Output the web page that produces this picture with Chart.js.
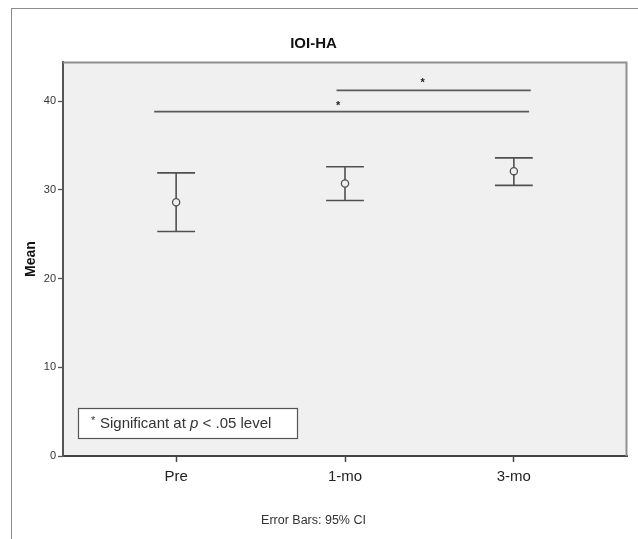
<!DOCTYPE html>
<html>
<head>
<meta charset="utf-8">
<script src="https://cdn.jsdelivr.net/npm/chart.js@4.4.1/dist/chart.umd.min.js"></script>
<style>
  html, body { margin: 0; padding: 0; background: #fff; overflow: hidden; }
  #wrap { position: relative; width: 638px; height: 539px; }
  #frame { position: absolute; left: 11px; top: 8px; width: 700px; height: 600px;
           border-left: 1.5px solid #8c8c8c; border-top: 1.5px solid #8c8c8c; pointer-events: none; }
  canvas { position: absolute; left: 0; top: 0; }
</style>
</head>
<body>
<div id="wrap">
  <canvas id="c" width="638" height="539"></canvas>
  <div id="frame"></div>
</div>
<script>
// ---- data ----
const categories = ['Pre', '1-mo', '3-mo'];
const means      = [28.6, 30.7, 32.1];
const ciLower    = [25.3, 28.8, 30.5];
const ciUpper    = [31.9, 32.6, 33.6];
const yTicks     = [0, 10, 20, 30, 40];
// significance brackets (x in category units, y in value units)
const sigStartX  = [-0.13, 0.95];
const sigEndX    = [2.09, 2.10];
const sigLevel   = [38.8, 41.2];
const starX      = [0.96, 1.46];
const starY      = [39.7, 42.3];

const FONT = '"Liberation Sans", Arial, Helvetica, sans-serif';
const CAP_HALF = 0.112;

// build error-bar line segments from the arrays
const whiskerPts = [];
categories.forEach((c, i) => {
  whiskerPts.push({x: i, y: ciLower[i]}, {x: i, y: ciUpper[i]}, {x: i, y: null});
  whiskerPts.push({x: i - CAP_HALF, y: ciUpper[i]}, {x: i + CAP_HALF, y: ciUpper[i]}, {x: i, y: null});
  whiskerPts.push({x: i - CAP_HALF, y: ciLower[i]}, {x: i + CAP_HALF, y: ciLower[i]}, {x: i, y: null});
});
const sigPts = [];
sigLevel.forEach((lv, k) => {
  sigPts.push({x: sigStartX[k], y: lv}, {x: sigEndX[k], y: lv}, {x: sigEndX[k], y: null});
});

const plotDecor = {
  id: 'plotDecor',
  beforeDraw(chart) {
    const {ctx, chartArea: a} = chart;
    ctx.save();
    ctx.fillStyle = '#f0f0f0';
    ctx.fillRect(a.left, a.top, a.right - a.left, a.bottom - a.top);
    ctx.restore();
  },
  afterDraw(chart) {
    const {ctx, chartArea: a, scales} = chart;
    ctx.save();
    // top and right frame of plot area
    ctx.strokeStyle = '#8f8f8f';
    ctx.lineWidth = 2;
    ctx.beginPath();
    ctx.moveTo(a.left, a.top + 0.5);
    ctx.lineTo(a.right - 0.5, a.top + 0.5);
    ctx.lineTo(a.right - 0.5, a.bottom);
    ctx.stroke();
    // significance asterisks
    ctx.fillStyle = '#222';
    ctx.font = 'bold 11px ' + FONT;
    ctx.textAlign = 'center';
    ctx.textBaseline = 'middle';
    starX.forEach((sx, k) => {
      ctx.fillText('*', scales.x.getPixelForValue(sx), scales.y.getPixelForValue(starY[k]) + 2);
    });
    // note box
    const bx = a.left + 15, by = a.bottom - 48, bw = 219, bh = 30;
    ctx.fillStyle = '#ffffff';
    ctx.fillRect(bx, by, bw, bh);
    ctx.strokeStyle = '#555';
    ctx.lineWidth = 1.2;
    ctx.strokeRect(bx + 0.5, by + 0.5, bw, bh);
    ctx.fillStyle = '#333';
    ctx.textAlign = 'left';
    ctx.textBaseline = 'middle';
    const ty = by + bh / 2 + 1;
    let tx = bx + 13;
    ctx.font = '11px ' + FONT;
    ctx.fillText('*', tx, ty - 3);
    tx += 9;
    ctx.font = '15px ' + FONT;
    const t1 = 'Significant at ';
    ctx.fillText(t1, tx, ty);
    tx += ctx.measureText(t1).width;
    ctx.font = 'italic 15px ' + FONT;
    ctx.fillText('p', tx, ty);
    tx += ctx.measureText('p').width;
    ctx.font = '15px ' + FONT;
    ctx.fillText(' < .05 level', tx, ty);
    ctx.restore();
  }
};

new Chart(document.getElementById('c'), {
  type: 'scatter',
  data: {
    datasets: [
      {
        type: 'line', label: 'CI', data: whiskerPts, spanGaps: false,
        borderColor: '#505050', borderWidth: 1.6, pointRadius: 0, fill: false, tension: 0,
        order: 2
      },
      {
        type: 'line', label: 'sig', data: sigPts, spanGaps: false,
        borderColor: '#5a5a5a', borderWidth: 1.8, pointRadius: 0, fill: false, tension: 0,
        order: 3
      },
      {
        type: 'scatter', label: 'Mean',
        data: categories.map((c, i) => ({x: i, y: means[i]})),
        pointStyle: 'circle', pointRadius: 3.6, pointBorderWidth: 1.3,
        pointBackgroundColor: '#f0f0f0', pointBorderColor: '#505050',
        order: 1
      }
    ]
  },
  options: {
    responsive: false,
    animation: false,
    layout: { padding: { left: 0, right: 11, top: 0, bottom: 0 } },
    plugins: {
      legend: { display: false },
      tooltip: { enabled: false },
      title: {
        display: true, text: 'IOI-HA', color: '#111',
        font: { family: FONT, size: 15, weight: 'bold' },
        padding: { top: 35, bottom: 9 }
      },
      subtitle: {
        display: true, position: 'bottom', text: 'Error Bars: 95% CI', color: '#333',
        font: { family: FONT, size: 12.5 },
        padding: { top: 18.5, bottom: 10.5 }
      }
    },
    scales: {
      x: {
        type: 'linear', min: -0.67, max: 2.67,
        afterBuildTicks(s) { s.ticks = categories.map((c, i) => ({value: i})); },
        afterFit(s) { s.height = 39; },
        ticks: {
          callback: (v) => categories[v] !== undefined ? categories[v] : '',
          color: '#222', font: { family: FONT, size: 15 }, padding: 6, maxRotation: 0, autoSkip: false
        },
        grid: { drawOnChartArea: false, drawTicks: true, tickLength: 6, tickColor: '#444', tickWidth: 1.5 },
        border: { display: true, color: '#444', width: 2 }
      },
      y: {
        type: 'linear', min: 0, max: 44.4,
        afterBuildTicks(s) { s.ticks = yTicks.map(v => ({value: v})); },
        afterFit(s) { s.width = 63; },
        ticks: { color: '#333', font: { family: FONT, size: 11 }, padding: 2 },
        grid: { drawOnChartArea: false, drawTicks: true, tickLength: 5, tickColor: '#555', tickWidth: 1.3 },
        border: { display: true, color: '#555', width: 2 },
        title: {
          display: true, text: 'Mean', color: '#111',
          font: { family: FONT, size: 14, weight: 'bold' },
          padding: { top: 23, bottom: 0 }
        }
      }
    }
  },
  plugins: [plotDecor]
});
</script>
</body>
</html>
